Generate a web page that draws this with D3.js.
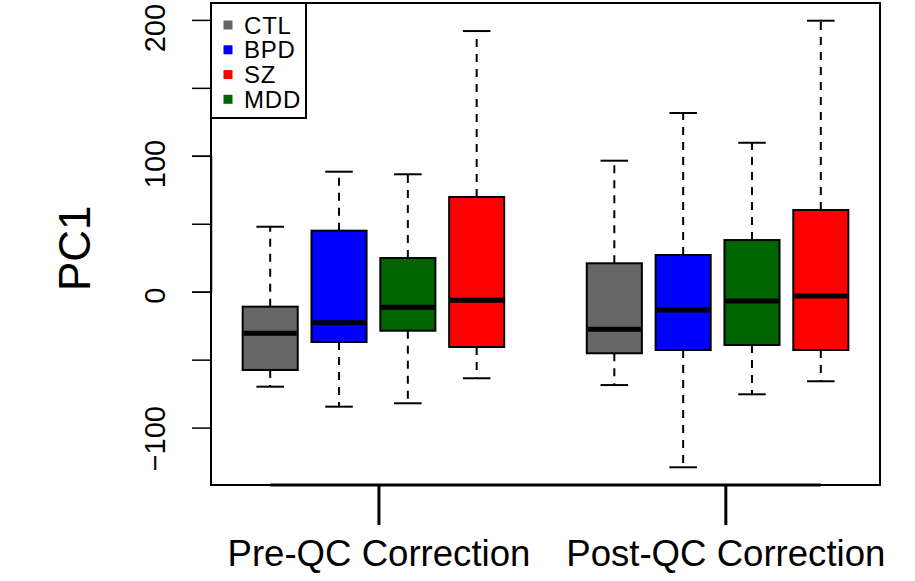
<!DOCTYPE html>
<html>
<head>
<meta charset="utf-8">
<script src="https://cdn.jsdelivr.net/npm/d3@7"></script>
<style>
  body { margin: 0; background: #fff; }
  svg text { font-family: "Liberation Sans", Arial, Helvetica, sans-serif; fill: #000; }
</style>
</head>
<body>
<div id="chart"></div>
<script>
const width = 915;
const height = 581;

// groups drawn left to right inside each panel
const groups = ["CTL", "BPD", "MDD", "SZ"];
const colors = { CTL: "#666666", BPD: "#0000ff", SZ: "#ff0000", MDD: "#006400" };
const legendOrder = ["CTL", "BPD", "SZ", "MDD"];

// box positions (R style at=) and stats
const positions = [1, 2, 3, 4, 6, 7, 8, 9];
const lowWhisker = [-69.9, -84.6, -82.1, -63.7, -68.7, -129.2, -75.5, -65.9];
const q1 = [-57.6, -37.0, -28.7, -40.7, -45.3, -42.9, -39.2, -42.9];
const medians = [-30.6, -22.8, -11.5, -6.3, -27.7, -13.5, -6.8, -3.2];
const q3 = [-11.0, 44.9, 24.8, 69.7, 20.9, 27.0, 38.0, 60.1];
const highWhisker = [47.8, 88.3, 86.4, 191.8, 96.4, 131.5, 109.6, 199.4];

const panelLabels = ["Pre-QC Correction", "Post-QC Correction"];
const panelTicks = [2.58, 7.62];
const yTicks = [-100, -50, 0, 50, 100, 150, 200];
const yLabels = [-100, 0, 100, 200];

const margin = { left: 211, right: 880, top: 3, bottom: 485 };

const x = d3.scaleLinear().domain([0.14, 9.86]).range([margin.left, margin.right]);
const y = d3.scaleLinear().domain([0, 100]).range([291.7, 155.8]);

const svg = d3.select("#chart").append("svg")
    .attr("width", width)
    .attr("height", height);

const boxes = positions.map((p, i) => ({
    pos: p,
    group: groups[i % 4],
    lo: lowWhisker[i], q1: q1[i], med: medians[i], q3: q3[i], hi: highWhisker[i]
}));

const boxW = x(0.8) - x(0);
const capW = x(0.4) - x(0);

const g = svg.append("g");

// whiskers (dashed)
g.selectAll(".whisk-up").data(boxes).join("line")
    .attr("x1", d => x(d.pos)).attr("x2", d => x(d.pos))
    .attr("y1", d => y(d.q3)).attr("y2", d => y(d.hi))
    .attr("stroke", "#000").attr("stroke-width", 2)
    .attr("stroke-dasharray", "8,7");
g.selectAll(".whisk-dn").data(boxes).join("line")
    .attr("x1", d => x(d.pos)).attr("x2", d => x(d.pos))
    .attr("y1", d => y(d.q1)).attr("y2", d => y(d.lo))
    .attr("stroke", "#000").attr("stroke-width", 2)
    .attr("stroke-dasharray", "8,7");

// caps
["hi", "lo"].forEach(k => {
    g.selectAll(".cap-" + k).data(boxes).join("line")
        .attr("x1", d => x(d.pos) - capW / 2).attr("x2", d => x(d.pos) + capW / 2)
        .attr("y1", d => y(d[k])).attr("y2", d => y(d[k]))
        .attr("stroke", "#000").attr("stroke-width", 2);
});

// boxes
g.selectAll("rect.box").data(boxes).join("rect")
    .attr("class", "box")
    .attr("x", d => x(d.pos) - boxW / 2)
    .attr("width", boxW)
    .attr("y", d => y(d.q3))
    .attr("height", d => y(d.q1) - y(d.q3))
    .attr("fill", d => colors[d.group])
    .attr("stroke", "#000").attr("stroke-width", 2);

// medians
g.selectAll(".med").data(boxes).join("line")
    .attr("x1", d => x(d.pos) - boxW / 2 + 1).attr("x2", d => x(d.pos) + boxW / 2 - 1)
    .attr("y1", d => y(d.med)).attr("y2", d => y(d.med))
    .attr("stroke", "#000").attr("stroke-width", 5);

// plot frame
svg.append("rect")
    .attr("x", margin.left).attr("y", margin.top)
    .attr("width", margin.right - margin.left)
    .attr("height", margin.bottom - margin.top)
    .attr("fill", "none").attr("stroke", "#000").attr("stroke-width", 2);

// left axis
const yAxis = svg.append("g")
    .attr("transform", `translate(${margin.left},0)`)
    .call(d3.axisLeft(y).tickValues(yTicks).tickSize(19).tickFormat(""));
yAxis.select(".domain").attr("stroke-width", 1.5);
yAxis.selectAll(".tick line").attr("stroke-width", 1.5);

yLabels.forEach(v => {
    const t = svg.append("text")
        .attr("font-size", 29)
        .attr("text-anchor", "middle")
        .text(v < 0 ? "\u2212" + Math.abs(v) : String(v));
    const len = t.node().getComputedTextLength();
    const cy = y(v) + Math.max(0.17 * len, 4);
    t.attr("transform", `translate(165,${cy}) rotate(-90)`);
});

svg.append("text")
    .attr("font-size", 44)
    .attr("text-anchor", "middle")
    .attr("transform", `translate(90,${y(32)}) rotate(-90)`)
    .text("PC1");

// bottom axis
svg.append("line")
    .attr("x1", x(1)).attr("x2", x(9))
    .attr("y1", margin.bottom).attr("y2", margin.bottom)
    .attr("stroke", "#000").attr("stroke-width", 3);
svg.selectAll(".xtick").data(panelTicks).join("line")
    .attr("x1", d => x(d)).attr("x2", d => x(d))
    .attr("y1", margin.bottom).attr("y2", margin.bottom + 40)
    .attr("stroke", "#000").attr("stroke-width", 3);
svg.selectAll(".xlab").data(panelLabels).join("text")
    .attr("x", (d, i) => x(panelTicks[i]))
    .attr("y", 566)
    .attr("font-size", 36.6)
    .attr("text-anchor", "middle")
    .text(d => d);

// legend
const legend = svg.append("g");
legend.append("rect")
    .attr("x", margin.left).attr("y", margin.top)
    .attr("width", 95).attr("height", 115)
    .attr("fill", "#fff").attr("stroke", "#000").attr("stroke-width", 2);
const ly = d3.scalePoint().domain(legendOrder).range([25, 99.3]);
legend.selectAll(".lsq").data(legendOrder).join("rect")
    .attr("x", 223.5).attr("y", d => ly(d) - 4.5)
    .attr("width", 9).attr("height", 9)
    .attr("fill", d => colors[d]);
legend.selectAll(".ltx").data(legendOrder).join("text")
    .attr("x", 244)
    .attr("y", d => ly(d) + 8.5)
    .attr("font-size", 24)
    .attr("letter-spacing", 0.8)
    .text(d => d);
</script>
</body>
</html>
